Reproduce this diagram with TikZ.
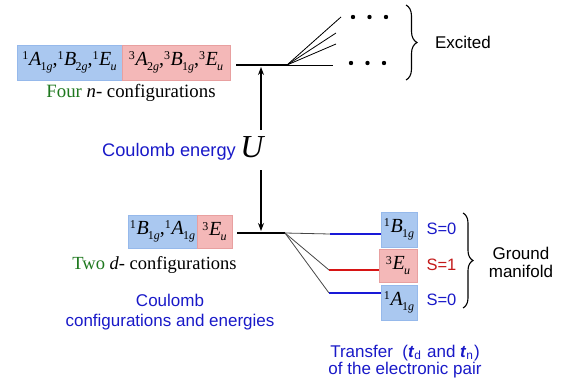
\documentclass[tikz,border=0pt]{standalone}
\usepackage{fontspec}
\setmainfont{Liberation Serif}
\setsansfont{Liberation Sans}
\usetikzlibrary{decorations.pathreplacing,arrows.meta}
\definecolor{bxblue}{RGB}{170,200,240}
\definecolor{bxblueb}{RGB}{150,185,235}
\definecolor{bxpink}{RGB}{244,184,184}
\definecolor{bxpinkb}{RGB}{232,160,160}
\definecolor{txtblue}{RGB}{25,25,200}
\definecolor{txtgreen}{RGB}{30,120,30}
\definecolor{txtred}{RGB}{195,25,25}
\definecolor{lnblue}{RGB}{25,25,215}
\definecolor{lnred}{RGB}{215,20,20}
\definecolor{fangray}{RGB}{70,70,70}
\newcommand\trm[3]{\raisebox{0.62ex}{\fontsize{12}{12}\selectfont #1}\kern0.6pt\textit{#2}\kern-0.8pt\raisebox{-0.55ex}{\fontsize{12}{12}\selectfont #3}}
\tikzset{
  bluebox/.style={fill=bxblue,draw=bxblueb,line width=0.6pt,inner sep=0pt,font=\fontsize{20}{20}\selectfont},
  pinkbox/.style={fill=bxpink,draw=bxpinkb,line width=0.6pt,inner sep=0pt,font=\fontsize{20}{20}\selectfont},
  sanslbl/.style={font=\sffamily\fontsize{17}{19}\selectfont,inner sep=0pt,align=center},
  seriflbl/.style={font=\fontsize{18.8}{20}\selectfont,inner sep=0pt},
  level/.style={line width=2.4pt},
  fan/.style={line width=0.8pt},
  energyarrow/.style={line width=1.1pt,-{Stealth[length=8pt,width=6pt]}},
  dotmark/.style={circle,fill=black,inner sep=0pt,minimum size=4.4pt},
  bracestyle/.style={line width=1.1pt,decorate,decoration={brace,amplitude=#1}}
}
\begin{document}
\begin{tikzpicture}[x=1pt,y=-1pt]
\useasboundingbox (0,0) rectangle (571,383);
% top configuration boxes
\node[bluebox,minimum width=105pt,minimum height=35pt] (tb) at (69.5,62.5)
  {\trm{1}{A}{1\textit{g}},\trm{1}{B}{2\textit{g}},\trm{1}{E}{\textit{u}}};
\node[pinkbox,minimum width=108pt,minimum height=35pt] (tp) at (176,62.5)
  {\trm{3}{A}{2\textit{g}},\trm{3}{B}{1\textit{g}},\trm{3}{E}{\textit{u}}};
\node[seriflbl] (four) at (131,93) {\textcolor{txtgreen}{Four} \textit{n}- configurations};
% top level and fan
\coordinate (tl) at (236,65);
\coordinate (tr) at (287,65);
\draw[level] (tl) -- (tr);
\coordinate (e1) at (341,17);
\coordinate (e2) at (336,33);
\coordinate (e3) at (336,44);
\coordinate (e4) at (333,65);
\foreach \e in {e1,e2,e3,e4} \draw[fan] (tr) -- (\e);
\node[dotmark] (d1) at (353,17) {};
\node[dotmark] (d2) at (369.5,17) {};
\node[dotmark] (d3) at (386,17) {};
\node[dotmark] (d4) at (351,63) {};
\node[dotmark] (d5) at (367.5,63) {};
\node[dotmark] (d6) at (384,63) {};
\coordinate (xb1) at (406,5);
\coordinate (xb2) at (406,80);
\draw[bracestyle=11pt] (xb1) -- (xb2);
\node[sanslbl] (exc) at (463,42) {Excited};
% Coulomb energy
\node[font=\fontsize{32}{32}\selectfont\itshape,inner sep=0pt] (U) at (252,147) {U};
\node[sanslbl,font=\sffamily\fontsize{18.2}{20}\selectfont,text=txtblue] (ce) at (169,152) {Coulomb energy};
\coordinate (ua) at (261,130);
\coordinate (ub) at (261,67);
\coordinate (uc) at (261,170);
\coordinate (ud) at (261,231);
\draw[energyarrow] (ua) -- (ub);
\draw[energyarrow] (uc) -- (ud);
% lower configuration boxes
\node[bluebox,minimum width=69pt,minimum height=33pt] (lb) at (162.5,231.5)
  {\trm{1}{B}{1\textit{g}},\trm{1}{A}{1\textit{g}}};
\node[pinkbox,minimum width=35pt,minimum height=33pt] (lp) at (214.5,231.5)
  {\trm{3}{E}{\textit{u}}};
\node[seriflbl,font=\fontsize{18.5}{20}\selectfont] (two) at (154.5,265) {\textcolor{txtgreen}{Two} \textit{d}- configurations};
\node[sanslbl,text=txtblue,font=\sffamily\fontsize{17}{20}\selectfont] (cc) at (170,312) {Coulomb\\configurations and energies};
% lower level and fan
\coordinate (bl) at (237,233);
\coordinate (br) at (285,233);
\draw[level] (bl) -- (br);
\coordinate (g1) at (330,234);
\coordinate (g2) at (329,270);
\coordinate (g3) at (329,293);
\foreach \g in {g1,g2,g3} \draw[fan,draw=fangray] (br) -- (\g);
% ground manifold boxes
\node[bluebox,minimum width=36pt,minimum height=35pt] (B1) at (399,229.5) {\trm{1}{B}{1\textit{g}}};
\node[pinkbox,minimum width=38pt,minimum height=33pt] (E3) at (398,265.5) {\trm{3}{E}{\textit{u}}};
\node[bluebox,minimum width=36pt,minimum height=35pt] (A1) at (399,302.5) {\trm{1}{A}{1\textit{g}}};
\draw[line width=2pt,lnblue] (g1) -- (g1 -| B1.west);
\draw[line width=2pt,lnred] (g2) -- (g2 -| E3.west);
\draw[line width=2pt,lnblue] (g3) -- (g3 -| A1.west);
\node[sanslbl,text=txtblue,font=\sffamily\fontsize{16.5}{18}\selectfont] (s1) at (441.5,229) {S=0};
\node[sanslbl,text=txtred,font=\sffamily\fontsize{16.5}{18}\selectfont] (s2) at (441.5,265) {S=1};
\node[sanslbl,text=txtblue,font=\sffamily\fontsize{16.5}{18}\selectfont] (s3) at (441.5,300) {S=0};
\coordinate (gb1) at (463,213);
\coordinate (gb2) at (463,308);
\draw[bracestyle=10pt] (gb1) -- (gb2);
\node[sanslbl,font=\sffamily\fontsize{17}{18}\selectfont] (gm) at (521,262) {Ground\\manifold};
\node[sanslbl,text=txtblue,font=\sffamily\fontsize{17}{17.5}\selectfont] (tr1) at (405,361.5)
  {Transfer\ \ (\textbf{\textit{t}}\textsubscript{d}\kern1pt{} and \textbf{\textit{t}}\textsubscript{n}\kern0.5pt)\\of the electronic pair};
\end{tikzpicture}
\end{document}
